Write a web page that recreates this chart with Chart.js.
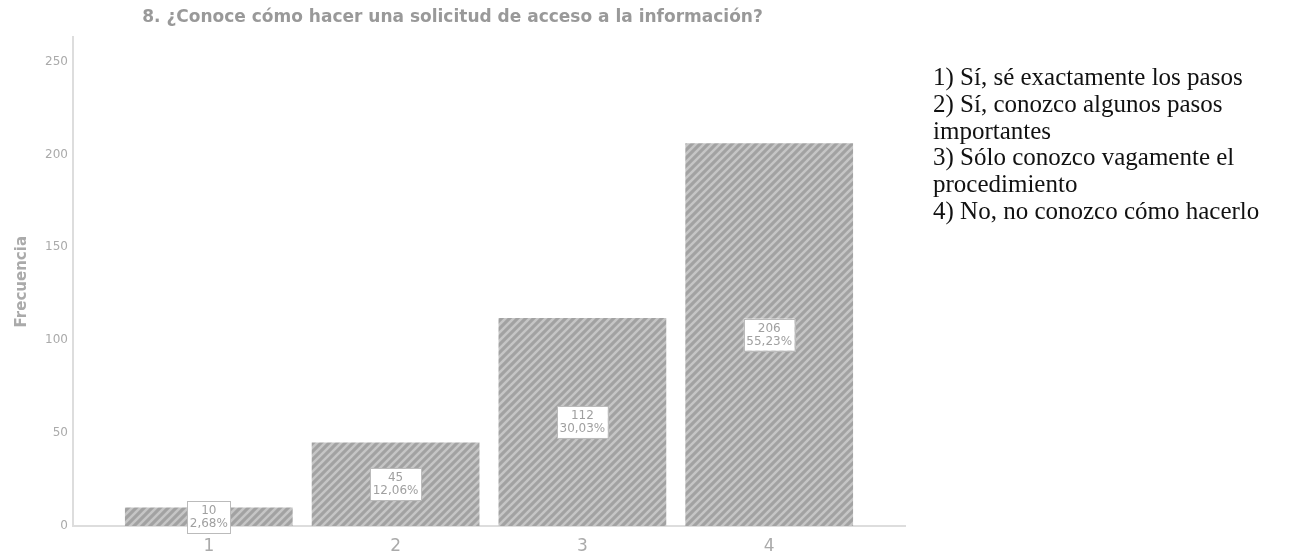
<!DOCTYPE html>
<html>
<head>
<meta charset="utf-8">
<script src="https://cdn.jsdelivr.net/npm/chart.js@4.4.1/dist/chart.umd.min.js"></script>
<style>
body{margin:0;background:#fff;}
#wrap{position:relative;width:1316px;height:555px;}
#legend{position:absolute;left:933px;top:64px;width:380px;font-family:"Liberation Serif",serif;font-size:25px;line-height:26.8px;color:#111;}
</style>
</head>
<body>
<div id="wrap">
<canvas id="chart" width="1316" height="555"></canvas>
<div id="legend"></div>
</div>
<script>
const categories=[1,2,3,4];
const counts=[10,45,112,206];
const percents=['2,68%','12,06%','30,03%','55,23%'];
const yTicks=[0,50,100,150,200,250];
const legendItems=['1) Sí, sé exactamente los pasos','2) Sí, conozco algunos pasos importantes','3) Sólo conozco vagamente el procedimiento','4) No, no conozco cómo hacerlo'];
const titleText='8. ¿Conoce cómo hacer una solicitud de acceso a la información?';

document.getElementById('legend').innerHTML=legendItems.map(t=>`<div>${t}</div>`).join('');

function hatch(){
  const c=document.createElement('canvas');c.width=8;c.height=8;
  const g=c.getContext('2d');
  g.fillStyle='#a2a2a2';g.fillRect(0,0,8,8);
  g.strokeStyle='#c6c6c6';g.lineWidth=2.5;
  [[-8,8,8,-8],[0,8,8,0],[0,16,16,0]].forEach(l=>{g.beginPath();g.moveTo(l[0],l[1]);g.lineTo(l[2],l[3]);g.stroke();});
  return g.createPattern(c,'repeat');
}
const pat=hatch();

const boxLabels={id:'boxLabels',afterDatasetsDraw(chart){
  const ctx=chart.ctx, meta=chart.getDatasetMeta(0);
  ctx.save();
  ctx.font='12px "DejaVu Sans"';ctx.textAlign='center';ctx.textBaseline='middle';
  meta.data.forEach((bar,i)=>{
    const l1=String(counts[i]), l2=percents[i];
    const w=Math.max(ctx.measureText(l1).width,ctx.measureText(l2).width)+5, h=32;
    const cx=bar.x, cy=(bar.y+bar.base)/2;
    ctx.fillStyle='#fff';ctx.fillRect(cx-w/2,cy-h/2,w,h);
    ctx.strokeStyle='#bbb';ctx.lineWidth=1;ctx.strokeRect(Math.round(cx-w/2)+0.5,Math.round(cy-h/2)+0.5,Math.round(w),h);
    ctx.fillStyle='#a0a0a0';
    ctx.fillText(l1,cx,cy-6);ctx.fillText(l2,cx,cy+7);
  });
  ctx.restore();
}};

new Chart(document.getElementById('chart'),{
  type:'bar',
  data:{datasets:[{data:categories.map((c,i)=>({x:c,y:counts[i]})),backgroundColor:pat,categoryPercentage:1,barPercentage:0.898,borderWidth:0}]},
  options:{
    responsive:false,animation:false,
    layout:{padding:{left:0,right:411,top:0,bottom:0}},
    plugins:{
      legend:{display:false},tooltip:{enabled:false},
      title:{display:true,text:titleText,color:'#999',font:{family:'"DejaVu Sans"',size:17,weight:'bold'},padding:{top:7,bottom:10}}
    },
    scales:{
      x:{type:'linear',offset:false,min:0.273,max:4.727,
        afterBuildTicks:s=>{s.ticks=categories.map(v=>({value:v}));},
        afterFit:s=>{s.height=29;},
        grid:{display:false,drawTicks:false},border:{color:'#ddd',width:2},
        ticks:{color:'#aaa',font:{family:'"DejaVu Sans"',size:17},padding:10}},
      y:{min:0,max:263,
        afterBuildTicks:s=>{s.ticks=yTicks.map(v=>({value:v}));},
        afterFit:s=>{s.width=73;},
        grid:{display:false,drawTicks:false},border:{color:'#ddd',width:2},
        ticks:{color:'#aaa',font:{family:'"DejaVu Sans"',size:12},padding:5},
        title:{display:true,text:'Frecuencia',color:'#aaa',font:{family:'"DejaVu Sans"',size:15,weight:'bold'},padding:{top:13,bottom:0}}}
    }
  },
  plugins:[boxLabels]
});
</script>
</body>
</html>
